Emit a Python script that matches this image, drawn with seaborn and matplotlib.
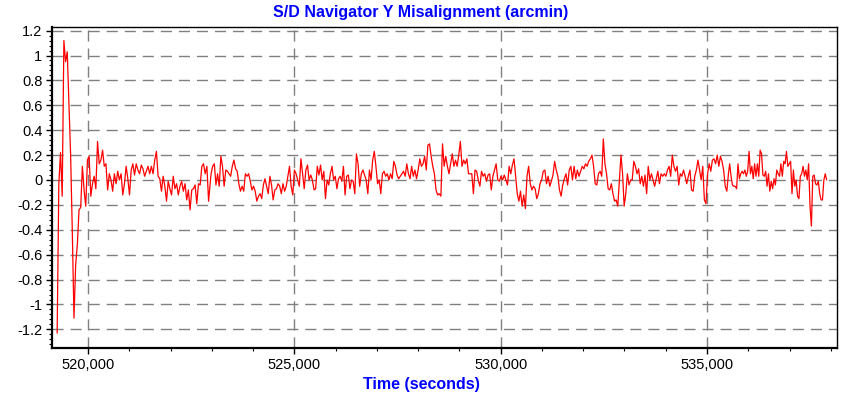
import numpy as np
import pandas as pd
import matplotlib
matplotlib.use("Agg")
import matplotlib.pyplot as plt
import seaborn as sns
from matplotlib.ticker import MultipleLocator, FuncFormatter, FixedLocator

# Misalignment trace (arcmin) in six stretches.
# each stretch: (first time, last time) in seconds, samples evenly spaced
span_a = (519250, 522920)
seg_a = [-1.23, -0.03, 0.22, -0.13, 1.12, 0.95, 1.03, 0.62, 0.20, -0.41, -1.11, -0.68, -0.52,
         -0.24, -0.22, 0.11, -0.08, -0.21, 0.16,
         0.19, -0.13, -0.03, 0.03, -0.07, 0.31, 0.13, 0.16, 0.24, 0.11, 0.13, -0.08, 0.05, 0.00,
         -0.09, 0.05, -0.03, 0.07, 0.00, 0.05, -0.12, -0.03, 0.11, 0.01, -0.12, 0.08, 0.13, 0.04,
         0.13, 0.08, 0.05, 0.12, 0.09, 0.03, 0.07, 0.11, 0.05, 0.11, 0.05, 0.16, 0.23, 0.03, 0.01,
         -0.09, 0.03, -0.05, -0.17, -0.01, -0.07, -0.12, 0.03, -0.07, -0.03, -0.12, -0.05, -0.01,
         -0.09, -0.03, -0.16, -0.08, -0.24, -0.08, -0.07, -0.04, -0.19, -0.03, -0.04, 0.11, 0.13,
         0.05, 0.11, -0.17]

span_b = (522980, 526070)
seg_b = [0.05, 0.11, 0.13, -0.04, 0.05, -0.05, 0.19, 0.11, -0.05, 0.08, 0.07, 0.05, 0.03, 0.11,
         0.16, 0.09, 0.07, -0.03, -0.09, -0.05, -0.09, 0.05, 0.03, 0.05, -0.01, -0.08, -0.05,
         -0.09, -0.17, -0.13, -0.11, -0.15, -0.04, 0.01, -0.05, -0.11, 0.03, -0.04, -0.16, -0.08,
         -0.07, -0.03, -0.05, -0.11, -0.03, -0.09, -0.05, 0.03, 0.11, -0.05, -0.12, 0.08, 0.05,
         0.00, -0.05, 0.17, 0.05, -0.07, 0.08, 0.12, 0.00, 0.04, 0.00, -0.08, -0.07, 0.11, 0.04,
         0.12, 0.00, 0.07, -0.15, 0.00, -0.04, 0.05, 0.11, 0.00, 0.03, -0.07, 0.01]

span_c = (526110, 529220)
seg_c = [0.03, -0.01, 0.11, -0.12, 0.03, 0.04, -0.07, 0.00, -0.01, -0.11, 0.21, 0.13, -0.05,
         0.05, 0.08, 0.04, 0.00, -0.11, 0.08, 0.00, 0.16, 0.23, 0.11, -0.03, 0.00, -0.11, 0.05,
         0.07, 0.03, 0.05, 0.00, 0.05, 0.01, 0.15, 0.11, 0.04, 0.01, 0.03, 0.05, 0.07, 0.03, 0.13,
         0.05, 0.01, 0.11, 0.03, 0.08, 0.01, 0.08, 0.17, 0.11, 0.13, 0.19, 0.08, 0.28, 0.29, 0.19,
         0.11, 0.05, -0.08, -0.12, -0.11, -0.13, 0.29, 0.11, 0.19, 0.11, 0.05, 0.13, 0.21, 0.11,
         0.16, 0.11, 0.20, 0.31, 0.11, 0.16, 0.13, 0.17, 0.05]

span_d = (529260, 532370)
seg_d = [0.05, 0.05, -0.11, 0.08, 0.07, 0.00, -0.05, 0.07, 0.03, 0.05, -0.01, 0.04, 0.05, -0.08,
         0.03, 0.08, 0.13, 0.00, -0.01, 0.03, 0.00, 0.04, 0.00, -0.04, 0.11, 0.05, 0.12, 0.17,
         0.03, -0.11, -0.17, -0.09, -0.21, -0.12, -0.23, 0.03, 0.11, -0.03, -0.08, -0.05, -0.07,
         -0.15, -0.11, -0.03, 0.00, 0.07, 0.08, -0.03, 0.03, -0.05, -0.01, 0.04, 0.15, 0.08, 0.03,
         -0.08, -0.13, -0.04, 0.01, 0.05, -0.04, 0.08, 0.11, 0.00, 0.11, 0.01, 0.08, 0.03, 0.07,
         0.11, 0.09, 0.13, 0.11, 0.15, 0.17, 0.20, 0.11, -0.03, -0.04, 0.05]

span_e = (532410, 535520)
seg_e = [0.07, 0.03, 0.33, 0.13, 0.05, -0.07, -0.08, -0.03, -0.11, -0.17, -0.16, -0.21, 0.00,
         0.20, 0.05, -0.21, -0.11, 0.05, -0.04, 0.00, 0.00, 0.15, 0.11, 0.05, 0.09, -0.03, 0.03,
         -0.05, 0.04, -0.11, 0.11, 0.00, 0.05, 0.00, -0.05, 0.01, 0.07, -0.03, 0.05, 0.03, 0.05,
         0.03, 0.08, 0.11, 0.03, 0.20, 0.11, 0.07, 0.11, -0.04, 0.05, 0.03, 0.08, 0.03, -0.03,
         0.03, 0.08, -0.08, -0.09, 0.03, 0.08, 0.16, 0.08, 0.00, 0.11, -0.16, -0.19, 0.05, 0.13,
         0.07, 0.16, 0.17, 0.13, 0.20, 0.11, 0.19, 0.15, 0.08, -0.05, -0.09, 0.05]

span_f = (535550, 537900)
seg_f = [0.13, 0.03, -0.04, -0.05, -0.05, -0.07, 0.13, 0.01, 0.05, 0.07, 0.05, 0.08, 0.03, 0.07,
         0.23, 0.05, 0.11, 0.01, 0.13, 0.03, 0.13, 0.03, 0.24, 0.21, 0.04, 0.03, 0.07, -0.05,
         0.05, -0.09, -0.01, -0.07, 0.01, -0.04, 0.08, 0.05, 0.03, 0.13, 0.03, 0.15, 0.13, 0.23,
         0.11, 0.13, 0.15, -0.11, 0.08, -0.05, 0.00, -0.13, -0.15, 0.03, 0.05, 0.11, 0.03, 0.08,
         0.00, 0.13, -0.21, -0.37, 0.03, 0.04, -0.03, -0.04, -0.01, -0.11, -0.16, -0.16, 0.00,
         0.05, 0.00]

x_ticks = [520000, 525000, 530000, 535000]
y_ticks = [-1.2, -1.0, -0.8, -0.6, -0.4, -0.2, 0.0, 0.2, 0.4, 0.6, 0.8, 1.0, 1.2]

frames = []
for span, seg in [(span_a, seg_a), (span_b, seg_b), (span_c, seg_c),
                  (span_d, seg_d), (span_e, seg_e), (span_f, seg_f)]:
    t = np.linspace(span[0], span[1], len(seg))
    frames.append(pd.DataFrame({"time": t, "value": seg}))
df = pd.concat(frames, ignore_index=True)

sns.set_theme(style="white")
plt.rcParams["font.family"] = ["Liberation Sans", "DejaVu Sans"]
plt.rcParams["axes.unicode_minus"] = False

fig = plt.figure(figsize=(8.42, 4.01), dpi=100)
ax = fig.add_axes([0.062, 0.132, 0.932, 0.801])

sns.lineplot(data=df, x="time", y="value", color="#ff0000", linewidth=0.9,
             estimator=None, sort=False, ax=ax)

ax.set_xlim(519130, 538150)
ax.set_ylim(-1.35, 1.23)

ax.xaxis.set_major_locator(FixedLocator(x_ticks))
ax.xaxis.set_minor_locator(MultipleLocator(1000))
ax.xaxis.set_major_formatter(FuncFormatter(lambda v, p: f"{v:,.0f}"))
ax.yaxis.set_major_locator(FixedLocator(y_ticks))
ax.yaxis.set_minor_locator(MultipleLocator(0.04))
ax.yaxis.set_major_formatter(FuncFormatter(lambda v, p: f"{v:g}"))

ax.grid(True, which="major", color="#808080", linestyle=(0, (8, 5)), linewidth=1)
ax.tick_params(axis="both", which="major", labelsize=10.5, colors="black",
               direction="out", length=4, width=1, left=True, bottom=True, pad=3)
ax.tick_params(axis="both", which="minor", direction="out", length=2, width=0.8,
               left=True, bottom=True, color="black")
for side in ["left", "bottom"]:
    ax.spines[side].set_linewidth(1.6)
    ax.spines[side].set_color("black")
for side in ["top", "right"]:
    ax.spines[side].set_linewidth(1.0)
    ax.spines[side].set_color("black")

ax.set_xlabel("")
ax.set_ylabel("")
fig.text(0.5, 0.97, "S/D Navigator Y Misalignment (arcmin)", ha="center", va="center",
         color="#0000ff", fontsize=11.5, fontweight="bold")
fig.text(0.5, 0.04, "Time (seconds)", ha="center", va="center",
         color="#0000ff", fontsize=11.5, fontweight="bold")

fig.savefig("out.png", dpi=100)
